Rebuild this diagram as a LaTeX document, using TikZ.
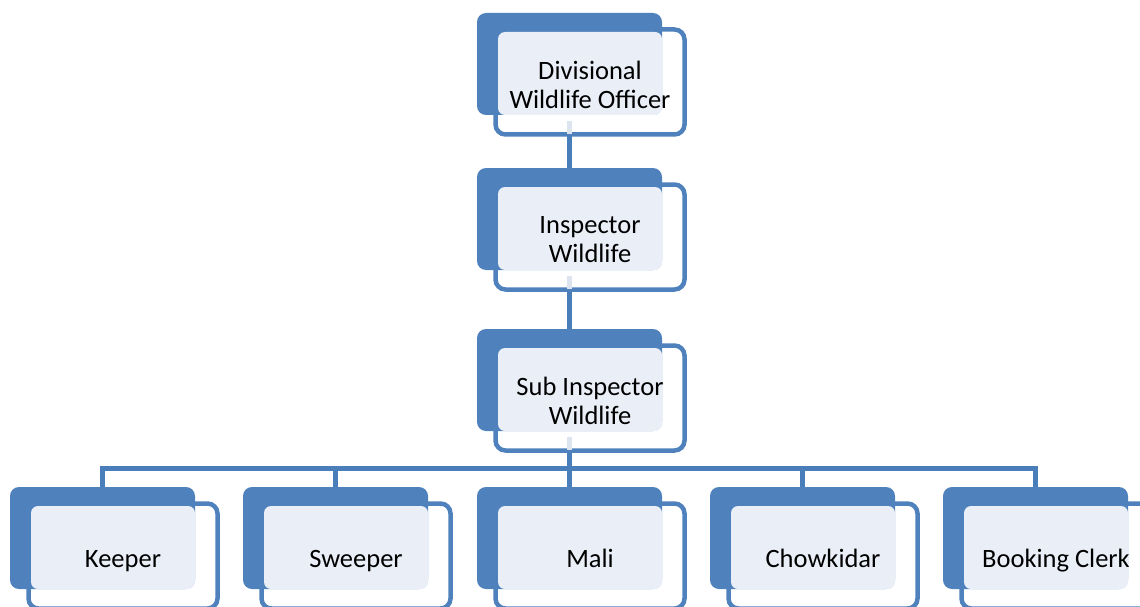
\documentclass[tikz,border=0pt]{standalone}
\usepackage{fontspec}
\setmainfont{Carlito}
\usetikzlibrary{calc}
\definecolor{obl}{HTML}{4F81BD}
\definecolor{oln}{HTML}{4A7EBB}
\definecolor{olt}{HTML}{EAEFF7}
\definecolor{ofaint}{HTML}{DCE4EF}
\tikzset{
  backbox/.style={fill=obl, draw=none, rounded corners=9pt, minimum width=185pt, minimum height=102pt, inner sep=0pt, outer sep=0pt},
  frontbox/.style={draw=obl, line width=4.5pt, fill=none, rounded corners=10pt, minimum width=189pt, minimum height=105pt, inner sep=0pt, outer sep=0pt},
  lightfill/.style={fill=olt},
  lbl/.style={font=\fontsize{26.5}{29}\selectfont, align=center, text=black, inner sep=0pt},
  conn/.style={draw=oln, line width=5pt},
  faint/.style={draw=ofaint, line width=5pt}
}
% #1 name, #2 x, #3 y (top-left of the filled back box), #4 label, #5 label baseline offset from front-box centre
\newcommand{\orgframe}[3]{%
  \node[backbox, anchor=north west] (#1b) at (#2,#3) {};
  \node[frontbox, anchor=north west] (#1) at (#2+18.5,#3+16.5) {};
  \fill[lightfill, rounded corners=7pt] (#2+21,#3+19) rectangle (#2+185,#3+102);
}
\newcommand{\orgunit}[4]{%
  \orgframe{#1}{#2}{#3}%
  \node[lbl] (#1t) at ($(#1.center)+(0,3)$) {#4};
}
\newcommand{\orgleaf}[4]{%
  \orgframe{#1}{#2}{#3}%
  \node[lbl, anchor=base] (#1t) at ($(#1.center)+(0,11)$) {#4};
}
\begin{document}
\begin{tikzpicture}[x=1pt,y=-1pt]
\useasboundingbox (0,0) rectangle (1140,607);
\clip (0,0) rectangle (1140,607);
% connectors (behind boxes)
\draw[conn] (569.5,135) -- (569.5,170);
\draw[conn] (569.5,290) -- (569.5,330);
\draw[conn] (569.5,450) -- (569.5,490);
\draw[conn] (102.5,490) -- (102.5,468) -- (1035.5,468) -- (1035.5,490);
\draw[conn] (335.5,468) -- (335.5,490);
\draw[conn] (802.5,468) -- (802.5,490);
% boxes
\orgunit{dwo}{477}{13}{Divisional\\Wildlife Officer}
\orgunit{insp}{477}{168}{Inspector\\Wildlife}
\orgunit{sub}{477}{329}{Sub Inspector\\Wildlife}
\orgleaf{keeper}{10}{487}{Keeper}
\orgleaf{sweeper}{243}{487}{Sweeper}
\orgleaf{mali}{477}{487}{Mali}
\orgleaf{chow}{710}{487}{Chowkidar}
\orgleaf{book}{943}{487}{Booking Clerk}
% faint connector traces inside the outlined boxes
\draw[faint] (dwob.south) ++(0,6) -- ++(0,13);
\draw[faint] (inspb.south) ++(0,6) -- ++(0,13);
\draw[faint] (subb.south) ++(0,6) -- ++(0,13);
\end{tikzpicture}
\end{document}
